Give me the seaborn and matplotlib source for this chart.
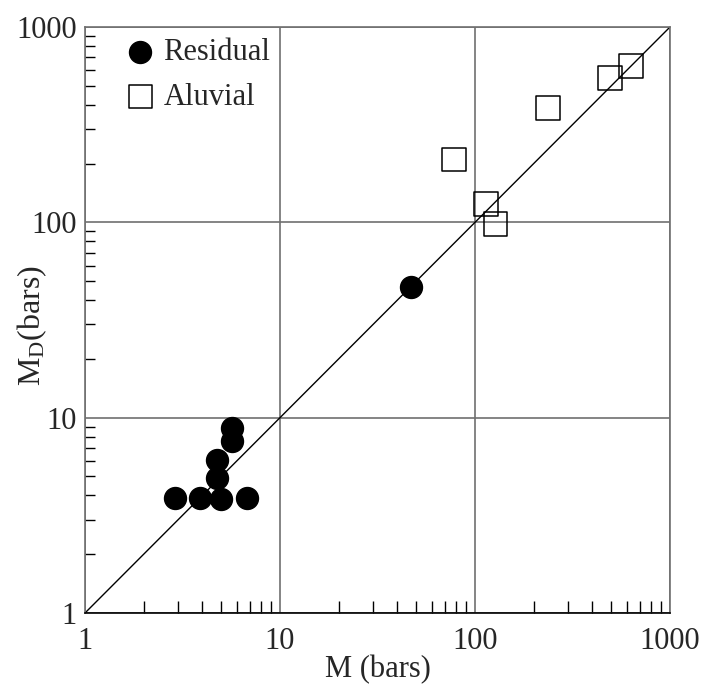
import matplotlib
matplotlib.use("Agg")
import matplotlib.pyplot as plt
import matplotlib.ticker as mticker
import numpy as np
import pandas as pd
import seaborn as sns

# Residual soils: M vs M_D (bars)
residual_m = [2.9, 3.9, 5.0, 6.8, 4.75, 4.75, 5.7, 5.7, 47]
residual_md = [3.9, 3.9, 3.85, 3.9, 6.05, 4.9, 8.9, 7.6, 46.5]

# Alluvial soils: M vs M_D (bars)
aluvial_m = [78, 237, 492, 631, 114, 127]
aluvial_md = [209, 385, 548, 631, 124, 98]

line_ends = [1, 1000]
decades = [1, 10, 100, 1000]
decade_labels = ["1", "10", "100", "1000"]

sns.set_style("white")
plt.rcParams["font.family"] = ["Liberation Serif", "DejaVu Serif"]
plt.rcParams["mathtext.fontset"] = "custom"
plt.rcParams["mathtext.rm"] = "Liberation Serif"
plt.rcParams["mathtext.it"] = "Liberation Serif:italic"

fig = plt.figure(figsize=(7.15, 6.92), dpi=100)
ax = fig.add_axes([85 / 715, 1 - 613 / 692, 585 / 715, 586 / 692])

df_res = pd.DataFrame({"M": residual_m, "MD": residual_md})
df_alu = pd.DataFrame({"M": aluvial_m, "MD": aluvial_md})

ax.set_xscale("log")
ax.set_yscale("log")

# 1:1 line
ax.plot(line_ends, line_ends, color="black", lw=1.0, zorder=2)

sns.scatterplot(data=df_res, x="M", y="MD", ax=ax, marker="o", s=250,
                color="black", edgecolor="black", linewidth=1,
                label="Residual", zorder=4)
sns.scatterplot(data=df_alu, x="M", y="MD", ax=ax, marker="s", s=280,
                facecolor="none", edgecolor="black", linewidth=1.1,
                label="Aluvial", zorder=3)

ax.set_xlim(1, 1000)
ax.set_ylim(1, 1000)

ax.xaxis.set_major_locator(mticker.FixedLocator(decades))
ax.yaxis.set_major_locator(mticker.FixedLocator(decades))
ax.set_xticklabels(decade_labels)
ax.set_yticklabels(decade_labels)
ax.xaxis.set_minor_locator(mticker.LogLocator(base=10, subs=np.arange(2, 10), numticks=20))
ax.yaxis.set_minor_locator(mticker.LogLocator(base=10, subs=np.arange(2, 10), numticks=20))
ax.xaxis.set_minor_formatter(mticker.NullFormatter())
ax.yaxis.set_minor_formatter(mticker.NullFormatter())

ax.tick_params(bottom=True, left=True, top=False, right=False, which="both")
ax.tick_params(which="major", length=0, labelsize=22, pad=6)
ax.tick_params(axis="x", which="major", pad=10)
ax.tick_params(which="minor", direction="in", length=9, width=1, color="black")
ax.tick_params(axis="y", which="minor", length=7)

ax.grid(True, which="major", color="#707070", lw=1.2)
ax.set_axisbelow(True)

for side in ["left", "right", "top"]:
    ax.spines[side].set_color("#707070")
    ax.spines[side].set_linewidth(1.2)
ax.spines["bottom"].set_color("black")
ax.spines["bottom"].set_linewidth(1.2)

ax.set_xlabel("M (bars)", fontsize=22)
ax.set_ylabel(r"M$_{\mathrm{D}}$(bars)", fontsize=23)
ax.xaxis.set_label_coords(0.5, -0.072)
ax.yaxis.set_label_coords(-0.062, 0.49)

leg = ax.legend(loc="upper left", frameon=False, fontsize=22,
                bbox_to_anchor=(0.032, 1.012), handlelength=1.2,
                handletextpad=0.15, labelspacing=0.5, borderaxespad=0.2,
                markerscale=1.0)

fig.savefig("out.png", dpi=100)
